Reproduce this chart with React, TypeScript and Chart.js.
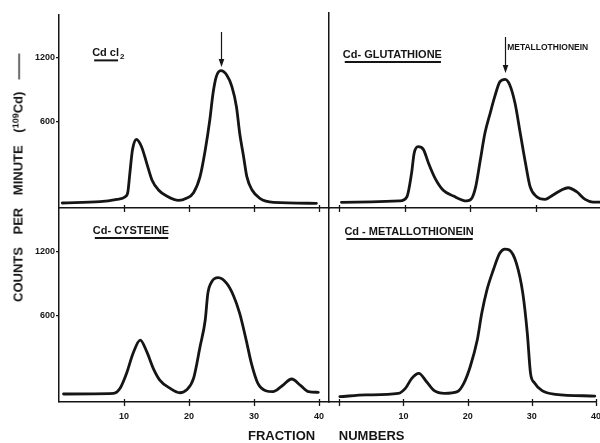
import React, { useEffect, useRef } from "react";
import { Chart, registerables } from "chart.js";

Chart.register(...registerables);

// ---- tick labels ----
const tickFractions = [10, 20, 30, 40];
const countTicks = [600, 1200];

// ---- Cd Cl2 (top left) ----
const cdCl2Fraction = [0.5, 6.3, 8.9, 10.2, 10.6, 10.9, 11.3, 11.9, 12.7, 13.5, 14.3, 15.3, 16.6, 18.4, 19.6, 20.7, 21.7, 22.5, 23.2, 23.7, 24.2, 24.9, 25.8, 26.6, 27.3, 27.8, 28.4, 28.9, 29.7, 30.9, 33.0, 39.6];
const cdCl2Counts = [-163, -151, -129, -104, -57, 115, 334, 434, 365, 209, 53, -41, -98, -138, -119, -66, 84, 334, 615, 866, 1022, 1078, 1037, 928, 740, 491, 271, 84, -41, -119, -157, -166];

// ---- Cd-glutathione (top right) ----
const gshFraction = [0.3, 9.2, 10.3, 11.0, 11.4, 12.0, 12.8, 13.6, 14.6, 15.8, 17.4, 19.4, 20.2, 20.8, 21.5, 22.2, 23.0, 23.7, 24.5, 25.3, 26.0, 26.8, 27.6, 28.4, 29.1, 30.1, 31.4, 32.6, 33.9, 34.9, 36.2, 37.5, 38.7, 39.8];
const gshCounts = [-157, -144, -104, 115, 303, 365, 340, 209, 68, -41, -98, -144, -119, -10, 240, 491, 678, 834, 975, 997, 944, 772, 491, 209, -10, -104, -129, -88, -41, -20, -57, -129, -154, -154];

// ---- Cd-cysteine (bottom left) ----
const cysFraction = [0.7, 8.4, 9.4, 10.4, 11.4, 12.5, 13.5, 14.5, 15.5, 17.1, 18.6, 19.6, 20.7, 21.7, 22.5, 22.9, 23.5, 24.5, 25.8, 26.8, 27.8, 28.8, 29.6, 30.6, 31.8, 32.9, 34.3, 35.8, 37.1, 38.4, 39.9];
const cysCounts = [-135, -129, -82, 59, 247, 371, 262, 106, -4, -82, -123, -98, 12, 309, 559, 809, 918, 956, 903, 794, 622, 371, 153, -35, -104, -113, -60, 6, -51, -113, -119];

// ---- Cd-metallothionein (bottom right) ----
const mtFraction = [0.1, 4.2, 9.2, 10.3, 11.3, 12.4, 13.6, 14.8, 16.4, 18.4, 19.4, 20.4, 21.5, 22.2, 23.0, 24.0, 25.0, 25.8, 26.5, 27.6, 28.6, 29.3, 29.8, 30.4, 31.6, 33.7, 39.8];
const mtCounts = [-160, -144, -129, -82, 12, 59, -20, -104, -129, -113, -35, 121, 371, 622, 840, 1028, 1185, 1225, 1216, 1091, 809, 434, 59, -29, -104, -138, -154];

const FONT = '"Liberation Sans", Arial, Helvetica, sans-serif';
const INK = "#151515";
const CW = 610;
const CH = 443;

type Part = { text: string; sub?: boolean };
type PanelCfg = {
  fractions: number[];
  counts: number[];
  area: { left: number; top: number; right: number; bottom: number };
  xMin: number;
  xMax: number;
  yMin: number;
  yMax: number;
  yLabels: boolean;
  xLabels: boolean;
  zeroTick: boolean;
  label: { parts: Part[]; x: number; y: number };
  note?: { text: string; x: number; y: number };
  arrow?: { x: number; y1: number; y2: number };
};

const panels: PanelCfg[] = [
  {
    fractions: cdCl2Fraction,
    counts: cdCl2Counts,
    area: { left: 59, top: 15, right: 329, bottom: 208 },
    xMin: 0, xMax: 41.54, yMin: -210, yMax: 1600,
    yLabels: true, xLabels: false, zeroTick: false,
    label: { parts: [{ text: "Cd cl" }, { text: "2", sub: true }], x: 5.1, y: 1240 },
    arrow: { x: 24.9, y1: 1441, y2: 1112 },
  },
  {
    fractions: gshFraction,
    counts: gshCounts,
    area: { left: 329, top: 13, right: 601.5, bottom: 208 },
    xMin: -1.6, xMax: 40, yMin: -210, yMax: 1619,
    yLabels: false, xLabels: false, zeroTick: true,
    label: { parts: [{ text: "Cd- GLUTATHIONE" }], x: 0.5, y: 1225 },
    note: { text: "METALLOTHIONEIN", x: 25.6, y: 1290 },
    arrow: { x: 25.3, y1: 1394, y2: 1056 },
  },
  {
    fractions: cysFraction,
    counts: cysCounts,
    area: { left: 59, top: 208, right: 329, bottom: 402 },
    xMin: 0, xMax: 41.54, yMin: -210, yMax: 1610,
    yLabels: true, xLabels: true, zeroTick: false,
    label: { parts: [{ text: "Cd- CYSTEINE" }], x: 5.2, y: 1394 },
  },
  {
    fractions: mtFraction,
    counts: mtCounts,
    area: { left: 329, top: 208, right: 601.5, bottom: 402 },
    xMin: -1.6, xMax: 40, yMin: -210, yMax: 1610,
    yLabels: false, xLabels: true, zeroTick: true,
    label: { parts: [{ text: "Cd - METALLOTHIONEIN" }], x: 0.8, y: 1384 },
  },
];

function decorPlugin(p: PanelCfg) {
  return {
    id: "decor",
    afterDatasetsDraw(chart: any) {
      const ctx = chart.ctx as CanvasRenderingContext2D;
      const xs = chart.scales.x;
      const ys = chart.scales.y;
      ctx.save();
      ctx.strokeStyle = INK;
      ctx.fillStyle = INK;
      // tick marks crossing the x axis
      ctx.lineWidth = 1.3;
      const base = chart.chartArea.bottom;
      const marks = p.zeroTick ? [0, ...tickFractions] : tickFractions;
      marks.forEach((v) => {
        const px = Math.round(xs.getPixelForValue(v)) + 0.5;
        ctx.beginPath();
        ctx.moveTo(px, base - 3);
        ctx.lineTo(px, base + 4);
        ctx.stroke();
      });
      // panel label with underline
      let lx = xs.getPixelForValue(p.label.x);
      const ly = ys.getPixelForValue(p.label.y);
      const startX = lx;
      ctx.textBaseline = "middle";
      ctx.textAlign = "left";
      let underlineEnd = lx;
      p.label.parts.forEach((part) => {
        if (part.sub) {
          ctx.font = `bold 8px ${FONT}`;
          ctx.fillText(part.text, lx + 1, ly + 3);
          lx += ctx.measureText(part.text).width + 1;
        } else {
          ctx.font = `bold 11px ${FONT}`;
          ctx.fillText(part.text, lx, ly);
          lx += ctx.measureText(part.text).width;
          underlineEnd = lx;
        }
      });
      ctx.lineWidth = 2;
      ctx.beginPath();
      ctx.moveTo(startX + 2, ly + 7);
      ctx.lineTo(underlineEnd - 1, ly + 7);
      ctx.stroke();
      // note
      if (p.note) {
        ctx.font = `bold 8.5px ${FONT}`;
        ctx.fillText(p.note.text, xs.getPixelForValue(p.note.x), ys.getPixelForValue(p.note.y));
      }
      // arrow
      if (p.arrow) {
        const ax = Math.round(xs.getPixelForValue(p.arrow.x)) + 0.5;
        const y1 = ys.getPixelForValue(p.arrow.y1);
        const y2 = ys.getPixelForValue(p.arrow.y2);
        ctx.lineWidth = 1.2;
        ctx.beginPath();
        ctx.moveTo(ax, y1);
        ctx.lineTo(ax, y2 - 6);
        ctx.stroke();
        ctx.beginPath();
        ctx.moveTo(ax - 2.8, y2 - 8);
        ctx.lineTo(ax + 2.8, y2 - 8);
        ctx.lineTo(ax, y2);
        ctx.closePath();
        ctx.fill();
      }
      ctx.restore();
    },
  };
}

function Panel({ cfg }: { cfg: PanelCfg }) {
  const ref = useRef<HTMLCanvasElement | null>(null);
  useEffect(() => {
    if (!ref.current) return;
    const a = cfg.area;
    // widths of the axis boxes (labels are clipped to these boxes)
    const yBox = cfg.yLabels ? a.left : 0;
    const xBox = cfg.xLabels ? CH - a.bottom : 0;
    const tickFont = { family: FONT, size: 9, weight: "bold" as const };
    const chart = new Chart(ref.current, {
      type: "line",
      data: {
        datasets: [
          {
            data: cfg.fractions.map((f, i) => ({ x: f, y: cfg.counts[i] })),
            borderColor: INK,
            borderWidth: 2.8,
            pointRadius: 0,
            tension: 0.4,
            cubicInterpolationMode: "monotone",
            fill: false,
            borderCapStyle: "round",
            borderJoinStyle: "round",
          },
        ],
      },
      options: {
        responsive: false,
        animation: false,
        events: [],
        layout: {
          padding: {
            left: a.left - yBox,
            top: a.top,
            right: CW - a.right,
            bottom: CH - a.bottom - xBox,
          },
        },
        plugins: {
          legend: { display: false },
          tooltip: { enabled: false },
          title: { display: false },
        },
        scales: {
          x: {
            type: "linear",
            min: cfg.xMin,
            max: cfg.xMax,
            afterBuildTicks: (s: any) => {
              s.ticks = tickFractions.map((v) => ({ value: v }));
            },
            afterFit: (s: any) => {
              s.height = xBox;
            },
            grid: { display: false, drawTicks: false },
            border: { display: true, color: INK, width: 1.5 },
            ticks: {
              display: cfg.xLabels,
              color: INK,
              font: tickFont,
              padding: 9,
              maxRotation: 0,
              autoSkip: false,
              callback: (v: any) => String(v),
            },
          },
          y: {
            type: "linear",
            min: cfg.yMin,
            max: cfg.yMax,
            afterBuildTicks: (s: any) => {
              s.ticks = cfg.yLabels ? countTicks.map((v) => ({ value: v })) : [];
            },
            afterFit: (s: any) => {
              s.width = yBox;
            },
            grid: {
              display: cfg.yLabels,
              drawOnChartArea: false,
              drawTicks: true,
              tickLength: 3,
              color: INK,
              lineWidth: 1.3,
            },
            border: { display: true, color: INK, width: 1.5 },
            ticks: {
              display: cfg.yLabels,
              color: INK,
              font: tickFont,
              padding: 1,
              autoSkip: false,
              callback: (v: any) => String(v),
            },
          },
        },
      },
      plugins: [decorPlugin(cfg)],
    } as any);
    return () => chart.destroy();
  }, [cfg]);
  return (
    <canvas
      ref={ref}
      width={CW}
      height={CH}
      style={{ position: "absolute", left: 0, top: 0, width: CW, height: CH }}
    />
  );
}

export default function App() {
  const titleFont = `bold 13px ${FONT}`;
  return (
    <div
      style={{
        position: "fixed",
        left: 0,
        top: 0,
        width: 600,
        height: 443,
        overflow: "hidden",
        background: "#ffffff",
        color: INK,
      }}
    >
      {panels.map((p, i) => (
        <Panel key={i} cfg={p} />
      ))}
      <div
        style={{
          position: "absolute",
          left: 17,
          top: 178,
          transform: "translate(-50%, -50%) rotate(-90deg)",
          font: titleFont,
          lineHeight: "14px",
          whiteSpace: "nowrap",
          wordSpacing: "9px",
        }}
      >
        COUNTS PER MINUTE (<sup style={{ fontSize: "9px", verticalAlign: "4px" }}>109</sup>Cd){" "}
        <span style={{ display: "inline-block", transform: "scaleX(2)", marginLeft: 6, marginRight: 6 }}>—</span>
      </div>
      <div
        style={{
          position: "absolute",
          left: 248,
          top: 429,
          font: titleFont,
          lineHeight: "14px",
          whiteSpace: "pre",
          wordSpacing: "20px",
        }}
      >
        FRACTION NUMBERS
      </div>
    </div>
  );
}
